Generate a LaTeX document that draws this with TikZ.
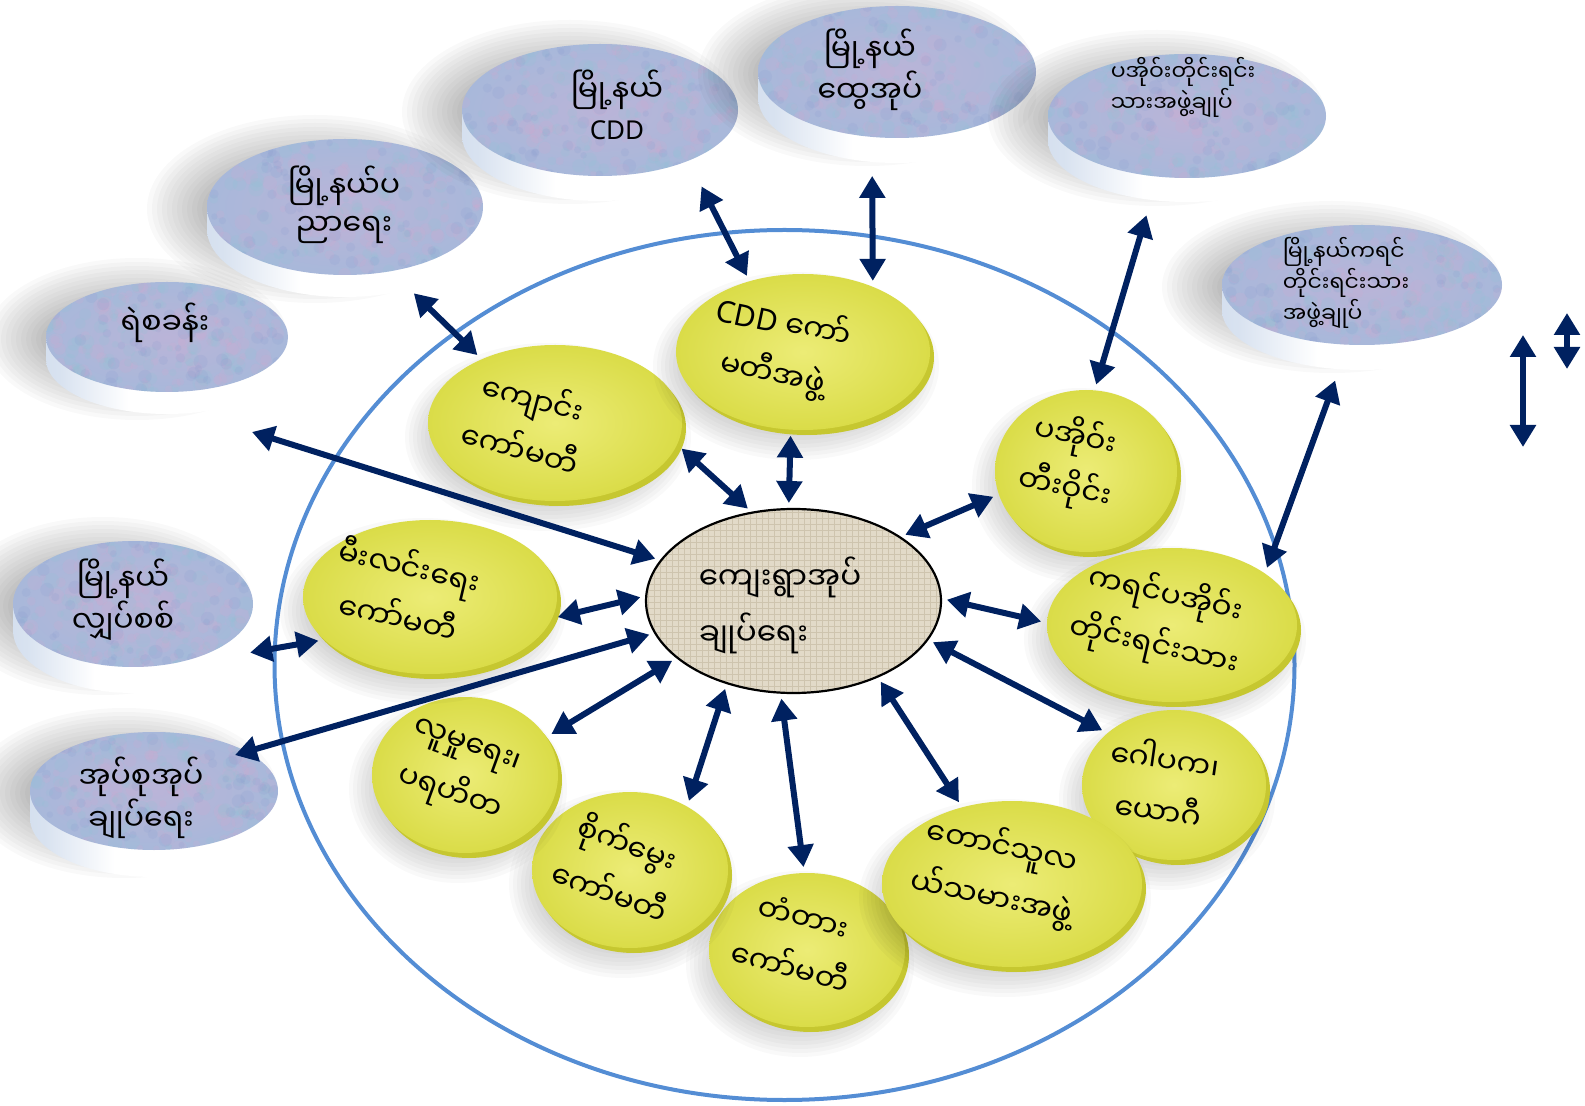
\documentclass[tikz,border=0pt]{standalone}
\usepackage{fontspec}
\setmainfont{Noto Sans}
\newfontfamily\mya[Script=Myanmar]{Noto Sans Myanmar UI}
\newfontfamily\lat{Noto Sans}
\usetikzlibrary{arrows.meta,shapes.geometric,patterns}
\definecolor{navy}{RGB}{0,33,96}
\definecolor{ringblue}{RGB}{84,141,212}
\definecolor{sideL}{RGB}{185,203,228}
\definecolor{btopin}{RGB}{186,180,216}
\definecolor{btopout}{RGB}{168,184,218}
\definecolor{blotchA}{RGB}{214,168,206}
\definecolor{blotchB}{RGB}{140,198,212}
\definecolor{blotchC}{RGB}{130,150,205}
\definecolor{ytopin}{RGB}{236,236,118}
\definecolor{ytopout}{RGB}{218,220,72}
\definecolor{yrimc}{RGB}{198,199,48}
\definecolor{beige}{RGB}{226,218,200}
\definecolor{weave}{RGB}{206,196,174}
\pgfdeclarehorizontalshading{discside}{100bp}{color(0bp)=(sideL); color(28bp)=(sideL!55!white); color(42bp)=(white); color(100bp)=(white)}
\tikzset{
  btop/.style={ellipse, inner sep=0pt, outer sep=0pt, inner color=btopin, outer color=btopout},
  ytop/.style={ellipse, inner sep=0pt, outer sep=0pt, inner color=ytopin, outer color=ytopout},
  yrim/.style={fill=yrimc},
  btext/.style={font=\mya\fontsize{15}{19}\selectfont, align=center, inner sep=0pt},
  bsmall/.style={font=\mya\fontsize{11}{14.5}\selectfont, align=left, inner sep=0pt},
  ytext/.style={font=\mya\fontsize{15}{26}\selectfont, align=center, inner sep=0pt},
  arr/.style={draw=navy, line width=3pt, {Triangle[length=11pt,width=12.5pt]}-{Triangle[length=11pt,width=12.5pt]}, shorten <=3pt, shorten >=3pt},
  bigring/.style={draw=ringblue, line width=2pt},
}
\newcommand{\BDisc}[6]{%
  \foreach \k in {0,...,11}{\fill[black,opacity=0.022] (#2-30,#3+2) ellipse [x radius=#4+30-5*\k, y radius=#5+26-4*\k];}
  \shade[shading=discside] (#2-#4,#3) -- (#2-#4,#3+#6) arc[start angle=180,end angle=0,x radius=#4,y radius=#5] -- (#2+#4,#3) -- cycle;
  \node[btop, minimum width=#4pt, minimum height=#5pt] (#1) at (#2,#3) {};
  \begin{scope}
    \clip (#2,#3) ellipse [x radius=#4, y radius=#5];
    \foreach \j in {1,...,110}{\fill[blotchA,opacity=0.16] (#2+rand*#4,#3+rand*#5) circle [radius=3+5*rnd];}
    \foreach \j in {1,...,110}{\fill[blotchB,opacity=0.16] (#2+rand*#4,#3+rand*#5) circle [radius=3+5*rnd];}
    \foreach \j in {1,...,70}{\fill[blotchC,opacity=0.14] (#2+rand*#4,#3+rand*#5) circle [radius=3+4*rnd];}
  \end{scope}
  \node[ellipse, inner sep=0pt, outer sep=0pt, minimum width=#4pt, minimum height=#5pt] (#1b) at (#2,#3+#6) {};
}
\newcommand{\YDisc}[5]{%
  \foreach \k in {0,...,9}{\fill[black,opacity=0.022] (#2-7,#3+14) ellipse [x radius=#4+16-4*\k, y radius=#5+16-4*\k];}
  \fill[yrim] (#2+4,#3+5) ellipse [x radius=#4, y radius=#5];
  \node[ytop, minimum width=#4pt, minimum height=#5pt] (#1) at (#2,#3) {};
}
\begin{document}
\begin{tikzpicture}[x=0.5pt,y=-0.5pt]
\pgfmathsetseed{11}
\useasboundingbox (0,0) rectangle (1585,1106);
\draw[bigring] (784.5,665) ellipse [x radius=510, y radius=435];
% blue discs
\BDisc{B1}{167}{337}{121}{55}{22}
\BDisc{B2}{345}{207}{138}{68}{22}
\BDisc{B3}{600}{110}{138}{66}{25}
\BDisc{B4}{897}{72}{139}{66}{25}
\BDisc{B5}{1187}{116}{139}{62}{24}
\BDisc{B6}{1362}{285}{140}{60}{25}
\BDisc{B7}{133}{604}{120}{63}{26}
\BDisc{B8}{154}{791}{124}{59}{27}
\node[btext] (tB1) at (165,323) {ရဲစခန်း};
\node[btext] (tB2) at (344,205) {မြို့နယ်ပ\\ညာရေး};
\node[btext] (tB3) at (617,105) {မြို့နယ်\\{\lat\fontsize{13}{19}\selectfont CDD}};
\node[btext] (tB4) at (870,70) {မြို့နယ်\\ထွေအုပ်};
\node[bsmall] (tB5) at (1183,87) {ပအိုဝ်းတိုင်းရင်း\\သားအဖွဲ့ချုပ်};
\node[bsmall] (tB6) at (1346,283) {မြို့နယ်ကရင်\\တိုင်းရင်းသား\\အဖွဲ့ချုပ်};
\node[btext] (tB7) at (123,600) {မြို့နယ်\\လျှပ်စစ်};
\node[btext] (tB8) at (141,798) {အုပ်စုအုပ်\\ချုပ်ရေး};
% yellow discs
\YDisc{Y1}{555}{423}{127}{78}
\YDisc{Y2}{803}{352}{127}{78}
\YDisc{Y3}{1086}{471}{91}{81}
\YDisc{Y4}{1172}{625}{125}{77}
\YDisc{Y5}{1174}{785}{92}{75}
\YDisc{Y7}{807}{950}{98}{77}
\YDisc{Y6}{1012}{884}{130}{83}
\YDisc{Y8}{630}{870}{98}{78}
\YDisc{Y9}{465}{775}{93}{78}
\YDisc{Y10}{430}{597}{127}{77}
\node[ytext, rotate=-15] (tY1) at (527,422) {ကျောင်း\\ကော်မတီ};
\node[ytext, rotate=-12] (tY2) at (778,348) {{\lat CDD} ကော်\\မတီအဖွဲ့};
\node[ytext, rotate=-12] (tY3) at (1070,462) {ပအိုဝ်း\\တီးဝိုင်း};
\node[ytext, rotate=-13] (tY4) at (1160,620) {ကရင်ပအိုဝ်း\\တိုင်းရင်းသား};
\node[ytext, rotate=-8] (tY5) at (1162,783) {ဂေါပက၊\\ယောဂီ};
\node[ytext, rotate=-12] (tY6) at (997,872) {တောင်သူလ\\ယ်သမားအဖွဲ့};
\node[ytext, rotate=-15] (tY7) at (797,942) {တံတား\\ကော်မတီ};
\node[ytext, rotate=-20] (tY8) at (619,866) {စိုက်မွေး\\ကော်မတီ};
\node[ytext, rotate=-20] (tY9) at (457,773) {လူမှုရေး၊\\ပရဟိတ};
\node[ytext, rotate=-13] (tY10) at (404,590) {မီးလင်းရေး\\ကော်မတီ};
% centre
\node[ellipse, fill=beige, postaction={pattern=grid, pattern color=weave}, postaction={draw=black, line width=1.1pt}, inner sep=0pt, outer sep=0pt, minimum width=147.5pt, minimum height=92pt] (C) at (793.5,601) {};
\node[font=\mya\fontsize{15.5}{28}\selectfont, align=left, inner sep=0pt] (tC) at (780,605) {ကျေးရွာအုပ်\\ချုပ်ရေး};
% free ends
\coordinate (L) at (252,432);
\coordinate (R1a) at (1523,335);
\coordinate (R1b) at (1523,447);
\coordinate (R2a) at (1567,313);
\coordinate (R2b) at (1567,369);
% arrows
\draw[arr, shorten <=0pt] (L) -- (C.163.8);
\draw[arr] (B2b.-43.7) -- (Y1.139.7);
\draw[arr] (B3b.-25.9) -- (Y2.127.3);
\draw[arr, shorten <=7pt] (B4b.-111) -- (Y2.43.7);
\draw[arr, shorten <=8pt] (B5b.-121.7) -- (Y3.84.3);
\draw[arr, shorten <=6pt] (B6b.-111.8) -- (Y4.29.6);
\draw[arr, shorten <=0pt, shorten >=0pt] (R1a) -- (R1b);
\draw[arr, shorten <=0pt, shorten >=0pt] (R2a) -- (R2b);
\draw[arr] (Y1.-10.5) -- (C.115.3);
\draw[arr] (Y2.-99.5) -- (C.93);
\draw[arr] (Y3.-165.5) -- (C.31.6);
\draw[arr] (C.1.1) -- (Y4.179.1);
\draw[arr] (C.-16.7) -- (Y5.142.9);
\draw[arr] (C.-42.5) -- (Y6.123.4);
\draw[arr] (C.-98.9) -- (Y7.92.1);
\draw[arr] (C.-129.4) -- (Y8.48.8);
\draw[arr] (C.-154.5) -- (Y9.25.1);
\draw[arr] (C.178.5) -- (Y10.-10.5);
\draw[arr, shorten >=-6pt] (C.-167.8) -- (B8.23.5);
\draw[arr] (B7b.-12.1) -- (Y10.-158.6);
\end{tikzpicture}
\end{document}
